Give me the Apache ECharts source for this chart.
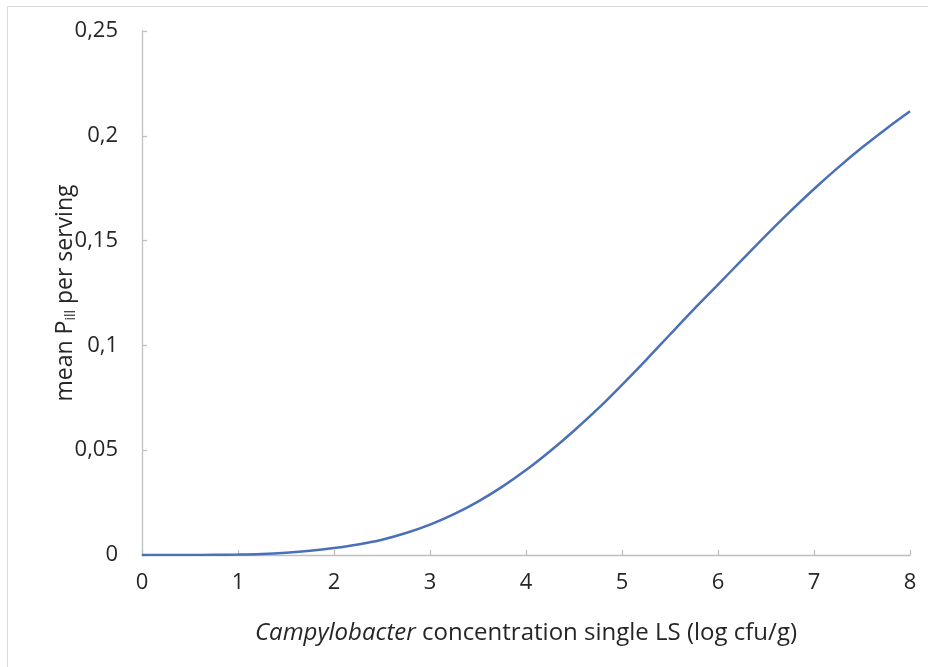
<!DOCTYPE html>
<html>
<head>
<meta charset="utf-8">
<script src="https://cdn.jsdelivr.net/npm/echarts@6/dist/echarts.min.js"></script>
<style>
html,body{margin:0;padding:0;background:#fff;}
#chart{width:928px;height:667px;}
</style>
</head>
<body>
<div id="chart"></div>
<script>
const logConc = [0,0.25,0.5,0.75,1,1.25,1.5,1.75,2,2.25,2.5,2.75,3,3.25,3.5,3.75,4,4.25,4.5,4.75,5,5.25,5.5,5.75,6,6.25,6.5,6.75,7,7.25,7.5,7.75,8];
const meanPill = [0,0,0,0.0001,0.0002,0.0005,0.0011,0.002,0.0033,0.005,0.0073,0.0105,0.0145,0.0195,0.0255,0.0325,0.0405,0.0495,0.0593,0.0698,0.0812,0.093,0.1052,0.1173,0.129,0.1408,0.1525,0.1638,0.1746,0.1848,0.1944,0.2033,0.2117];
const xTicks = [0,1,2,3,4,5,6,7,8];
const yTicks = ['0','0,05','0,1','0,15','0,2','0,25'];

const font = '"Open Sans", sans-serif';
const chart = echarts.init(document.getElementById('chart'));
chart.setOption({
  animation: false,
  backgroundColor: '#fff',
  graphic: [{
    type: 'rect',
    shape: {x: 7.5, y: 6.5, width: 960, height: 720},
    style: {fill: 'none', stroke: '#d9d9d9', lineWidth: 1},
    silent: true
  }],
  grid: {left: 142, right: 18, top: 31, bottom: 112},
  xAxis: {
    type: 'value', min: 0, max: 8, interval: 1,
    name: '{i|Campylobacter} concentration single LS (log cfu/g)',
    nameLocation: 'middle', nameGap: 66,
    nameMoveOverlap: false,
    nameTextStyle: {
      fontFamily: font, fontSize: 24, color: '#262626',
      rich: {i: {fontFamily: font, fontSize: 24, fontStyle: 'italic', color: '#262626'}}
    },
    axisLine: {show: true, lineStyle: {color: '#bfbfbf', width: 1.3}},
    axisTick: {show: true, inside: true, length: 5, lineStyle: {color: '#bfbfbf', width: 1.3}},
    splitLine: {show: false},
    axisLabel: {fontFamily: font, fontSize: 22, color: '#262626', margin: 17,
      formatter: v => String(xTicks[Math.round(v)])}
  },
  yAxis: {
    type: 'value', min: 0, max: 0.25, interval: 0.05,
    name: 'mean P{s|ill} per serving',
    nameLocation: 'middle', nameGap: 64,
    nameMoveOverlap: false,
    nameTextStyle: {
      fontFamily: font, fontSize: 23, color: '#262626',
      rich: {s: {fontFamily: font, fontSize: 14, color: '#262626', padding: [12, 0, 0, 0]}}
    },
    axisLine: {show: true, lineStyle: {color: '#bfbfbf', width: 1.3}},
    axisTick: {show: true, inside: true, length: 5, lineStyle: {color: '#bfbfbf', width: 1.3}},
    splitLine: {show: false},
    axisLabel: {fontFamily: font, fontSize: 22, color: '#262626', margin: 24,
      formatter: v => yTicks[Math.round(v / 0.05)]}
  },
  series: [{
    type: 'line',
    data: logConc.map((x, i) => [x, meanPill[i]]),
    showSymbol: false,
    smooth: 0.3,
    lineStyle: {color: '#4a70b9', width: 2.5}
  }]
});
</script>
</body>
</html>
